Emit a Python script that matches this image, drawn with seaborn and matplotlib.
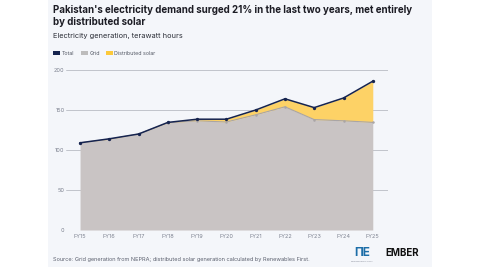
import pandas as pd
import matplotlib.pyplot as plt
import matplotlib.patches as mpatches
import seaborn as sns

years = ["FY15", "FY16", "FY17", "FY18", "FY19", "FY20", "FY21", "FY22", "FY23", "FY24", "FY25"]
total = [109, 114, 120, 134.5, 138.5, 138.5, 150, 164, 153, 165, 186]
grid = [109, 113.5, 120, 134, 136.5, 135, 144, 154, 138, 136.5, 134.5]
yticks = [0, 50, 100, 150, 200]

df = pd.DataFrame({"year": years, "total": total, "grid": grid})
df["x"] = range(len(df))

sns.set_style("white")
plt.rcParams["font.family"] = ["Inter", "DejaVu Sans"]

NAVY = "#16244f"
GREY = "#c9c4c4"
GREY_LINE = "#a9a5a6"
SOLAR = "#fdd266"
TXT = "#7d8290"

fig = plt.figure(figsize=(4.8, 2.7), dpi=100)
fig.patch.set_facecolor("white")
fig.patches.append(mpatches.Rectangle((48 / 480, 3 / 270), 384 / 480, 267 / 270,
                                      transform=fig.transFigure, facecolor="#f4f6fa",
                                      edgecolor="none", zorder=-5))

ax = fig.add_axes([66 / 480, 40 / 270, 322 / 480, 162 / 270])
ax.set_facecolor("none")

ax.fill_between(df["x"], 0, df["grid"], color=GREY, lw=0, zorder=1)
ax.fill_between(df["x"], df["grid"], df["total"], color=SOLAR, lw=0, zorder=1)
sns.lineplot(data=df, x="x", y="grid", color=GREY_LINE, lw=0.8, marker="o",
             markersize=1.8, markeredgewidth=0, ax=ax, zorder=3)
sns.lineplot(data=df, x="x", y="total", color=NAVY, lw=1.1, marker="o",
             markersize=2.4, markeredgewidth=0, ax=ax, zorder=4)

ax.set_xlim(-0.48, 10.52)
ax.set_ylim(0, 202.5)
ax.set_yticks(yticks)
ax.set_xticks(df["x"])
ax.set_xticklabels(years)
for y in yticks:
    ax.axhline(y, color="#b9bcc4", lw=0.6, zorder=0.5)
for s in ax.spines.values():
    s.set_visible(False)
ax.tick_params(axis="both", length=0, labelsize=4, labelcolor=TXT)
ax.tick_params(axis="y", pad=1)
ax.tick_params(axis="x", pad=3)
ax.set_xlabel("")
ax.set_ylabel("")

fig.text(53 / 480, 1 - 10 / 270, "Pakistan's electricity demand surged 21% in the last two years, met entirely",
         fontsize=7, fontweight="bold", color="#1c1c24", va="center")
fig.text(53 / 480, 1 - 22 / 270, "by distributed solar",
         fontsize=7, fontweight="bold", color="#1c1c24", va="center")
fig.text(53 / 480, 1 - 36 / 270, "Electricity generation, terawatt hours", fontsize=5.3,
         color="#2a2d36", va="center")

# legend
for label, col, sx in [("Total", NAVY, 53), ("Grid", "#bdbcbc", 81), ("Distributed solar", "#fcc93a", 106)]:
    fig.patches.append(mpatches.Rectangle((sx / 480, 1 - 55.5 / 270), 7 / 480, 4 / 270,
                                          transform=fig.transFigure, facecolor=col,
                                          edgecolor="none"))
    fig.text((sx + 8.5) / 480, 1 - 53.5 / 270, label, fontsize=3.8, color="#555a66", va="center")

fig.text(53 / 480, 1 - 259 / 270,
         "Source: Grid generation from NEPRA; distributed solar generation calculated by Renewables First.",
         fontsize=4.05, color="#5d6270", va="center")

fig.text(354 / 480, 1 - 253 / 270, "ΠE", fontsize=8.5, fontweight="bold", color="#1d6ea8",
         ha="left", va="center")
fig.text(351 / 480, 1 - 261 / 270, "RENEWABLES FIRST", fontsize=1.6, color="#7d8290",
         ha="left", va="center")
fig.text(385 / 480, 1 - 253 / 270, "EMBER", fontsize=7, fontweight="bold", color="#111111",
         ha="left", va="center")

plt.savefig("out.png", dpi=100)
